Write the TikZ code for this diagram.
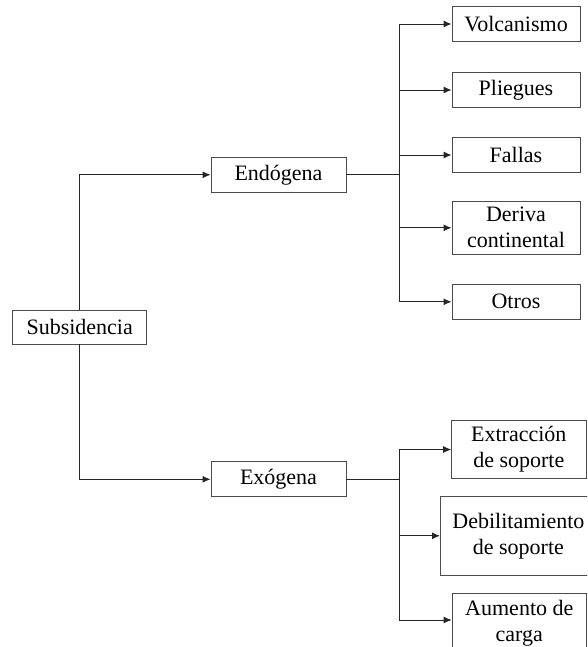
\documentclass[tikz,border=0pt]{standalone}
\usepackage{fontspec}
\setmainfont{Liberation Serif}
\usetikzlibrary{arrows.meta}
\begin{document}
\begin{tikzpicture}[x=1pt,y=-1pt,
  box/.style={draw=black!70,line width=0.9pt,fill=white,inner sep=0pt,
    align=center,font=\fontsize{22}{26}\selectfont},
  link/.style={draw=black!85,line width=0.9pt},
  arrowlink/.style={link,-{Latex[length=8pt,width=7pt]}}]
\useasboundingbox (0,0) rectangle (587,647);
\clip (0,0) rectangle (587,647);
% root and the two main branches
\node[box,minimum width=134pt,minimum height=34pt] (sub) at (79.7,327) {Subsidencia};
\node[box,minimum width=135pt,minimum height=35pt] (endo) at (278.5,174.8) {Endógena};
\node[box,minimum width=135pt,minimum height=35pt] (exo) at (278.5,479.3) {Exógena};
% endogenous causes
\node[box,minimum width=128pt,minimum height=35pt] (volc) at (516,24) {Volcanismo};
\node[box,minimum width=128pt,minimum height=35pt] (plie) at (516,90) {Pliegues};
\node[box,minimum width=128pt,minimum height=35pt] (fall) at (516,155) {Fallas};
\node[box,minimum width=128pt,minimum height=52.3pt] (deri) at (516,227.8) {Deriva\\continental};
\node[box,minimum width=128pt,minimum height=35pt] (otro) at (516,301.8) {Otros};
% exogenous causes
\node[box,minimum width=134.3pt,minimum height=57.6pt] (extr) at (518.8,449.5) {Extracción\\de soporte};
\node[box,minimum width=156pt,minimum height=78.3pt,anchor=west] (debi) at (440,535.8) {Debilitamiento\\de soporte};
\node[box,minimum width=134.3pt,minimum height=58pt,anchor=north west] (aume) at (451.7,593.3) {Aumento de\\carga};
% branching points
\coordinate (bE) at (399,174.8);
\coordinate (bX) at (399,479.3);
% connectors from the root
\draw[arrowlink] (sub.north) |- (endo.west);
\draw[arrowlink] (sub.south) |- (exo.west);
% endogenous tree
\draw[link] (endo.east) -- (bE);
\foreach \n in {volc,plie,fall,deri,otro}
  \draw[arrowlink] (bE) |- (\n.west);
% exogenous tree
\draw[link] (exo.east) -- (bX);
\foreach \n in {extr,debi}
  \draw[arrowlink] (bX) |- (\n.west);
\draw[arrowlink] (bX) |- (aume.west |- 0,620);
\end{tikzpicture}
\end{document}
